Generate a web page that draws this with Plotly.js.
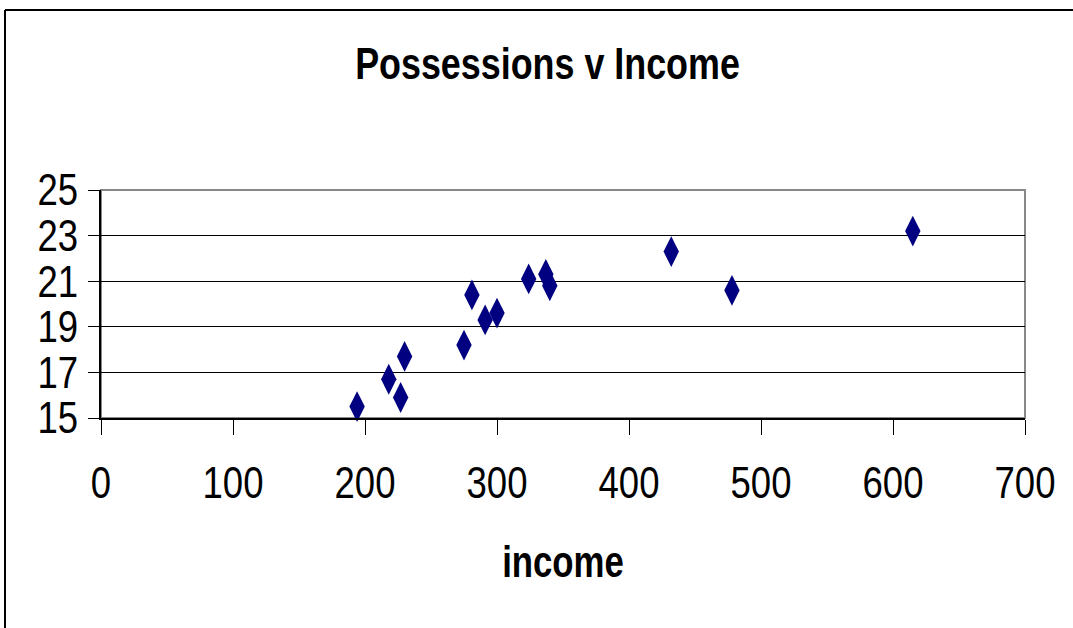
<!DOCTYPE html>
<html>
<head>
<meta charset="utf-8">
<script src="https://cdn.plot.ly/plotly-3.0.1.min.js"></script>
<style>
html,body{margin:0;padding:0;background:#fff;}
#chart{width:1073px;height:628px;}
</style>
</head>
<body>
<div id="chart"></div>
<script>
// Data
const income = [194, 218, 227, 230, 275, 281, 291, 300, 324, 337, 340, 432, 478, 615];
const possessions = [15.5, 16.7, 15.9, 17.7, 18.2, 20.4, 19.3, 19.6, 21.1, 21.3, 20.8, 22.3, 20.6, 23.2];
const chartTitle = "Possessions v Income";
const xTitle = "income";

const FONT = "'Liberation Sans', Arial, sans-serif";

const L = 101, R = 1025, T = 190, B = 418, W = 1073, H = 628;
const pw = R - L, ph = B - T;
const px = v => (v - L) / pw;
const py = v => (B - v) / ph;

const trace = {
  type: 'scatter',
  mode: 'markers',
  x: income,
  y: possessions,
  marker: {symbol: 'diamond-tall', size: 22, color: '#000080', line: {width: 0}},
  cliponaxis: false,
  hoverinfo: 'x+y'
};

const layout = {
  width: W, height: H,
  margin: {l: L, r: W - R, t: T, b: H - B, pad: 0},
  paper_bgcolor: '#ffffff',
  plot_bgcolor: '#ffffff',
  showlegend: false,
  font: {family: FONT, color: '#000', size: 44},
  title: {
    text: chartTitle,
    font: {family: FONT, size: 44, color: '#000', weight: 'bold'},
    x: 547.5 / W, xanchor: 'center', xref: 'container',
    y: 1 - 64 / H, yanchor: 'middle', yref: 'container'
  },
  xaxis: {
    range: [0, 700], dtick: 100, tick0: 0,
    showgrid: false, zeroline: false,
    showline: true, linecolor: '#000', linewidth: 2,
    ticks: 'outside', ticklen: 15, tickwidth: 1, tickcolor: '#000',
    ticklabelstandoff: 10,
    tickfont: {family: FONT, size: 44, color: '#000'},
    title: {text: xTitle, font: {family: FONT, size: 44, color: '#000', weight: 'bold'}, standoff: 40},
    fixedrange: true
  },
  yaxis: {
    range: [15, 25], dtick: 2, tick0: 15,
    showgrid: true, gridcolor: '#000', gridwidth: 1,
    zeroline: false,
    showline: true, linecolor: '#000', linewidth: 2,
    ticks: 'outside', ticklen: 11, tickwidth: 1, tickcolor: '#000',
    ticklabelstandoff: 1,
    tickfont: {family: FONT, size: 44, color: '#000'},
    fixedrange: true
  },
  shapes: [
    {type: 'rect', xref: 'paper', yref: 'paper', x0: 0, x1: 1, y0: 0, y1: 1,
     line: {color: '#888888', width: 2}, fillcolor: 'rgba(0,0,0,0)', layer: 'below'},
    {type: 'line', xref: 'paper', yref: 'paper', x0: px(5), x1: px(1100), y0: py(10), y1: py(10),
     line: {color: '#000', width: 2}},
    {type: 'line', xref: 'paper', yref: 'paper', x0: px(5), x1: px(5), y0: py(10), y1: py(700),
     line: {color: '#000', width: 2}}
  ]
};

// Condense the glyphs horizontally, as in the reference (narrow lettering)
function condense(gd) {
  gd.querySelectorAll('.main-svg text').forEach(t => {
    const s = t.textContent;
    if (!s) return;
    const isTitle = t.classList.contains('gtitle');
    const isXTitle = t.classList.contains('xtitle');
    const f = isTitle ? 0.815 : (isXTitle ? 0.79 : 0.83);
    const len = t.getComputedTextLength();
    if (len > 0) {
      t.setAttribute('textLength', (len * f).toFixed(2));
      t.setAttribute('lengthAdjust', 'spacingAndGlyphs');
    }
  });
}

Plotly.newPlot('chart', [trace], layout, {displayModeBar: false, staticPlot: true})
  .then(gd => condense(gd));
</script>
</body>
</html>
